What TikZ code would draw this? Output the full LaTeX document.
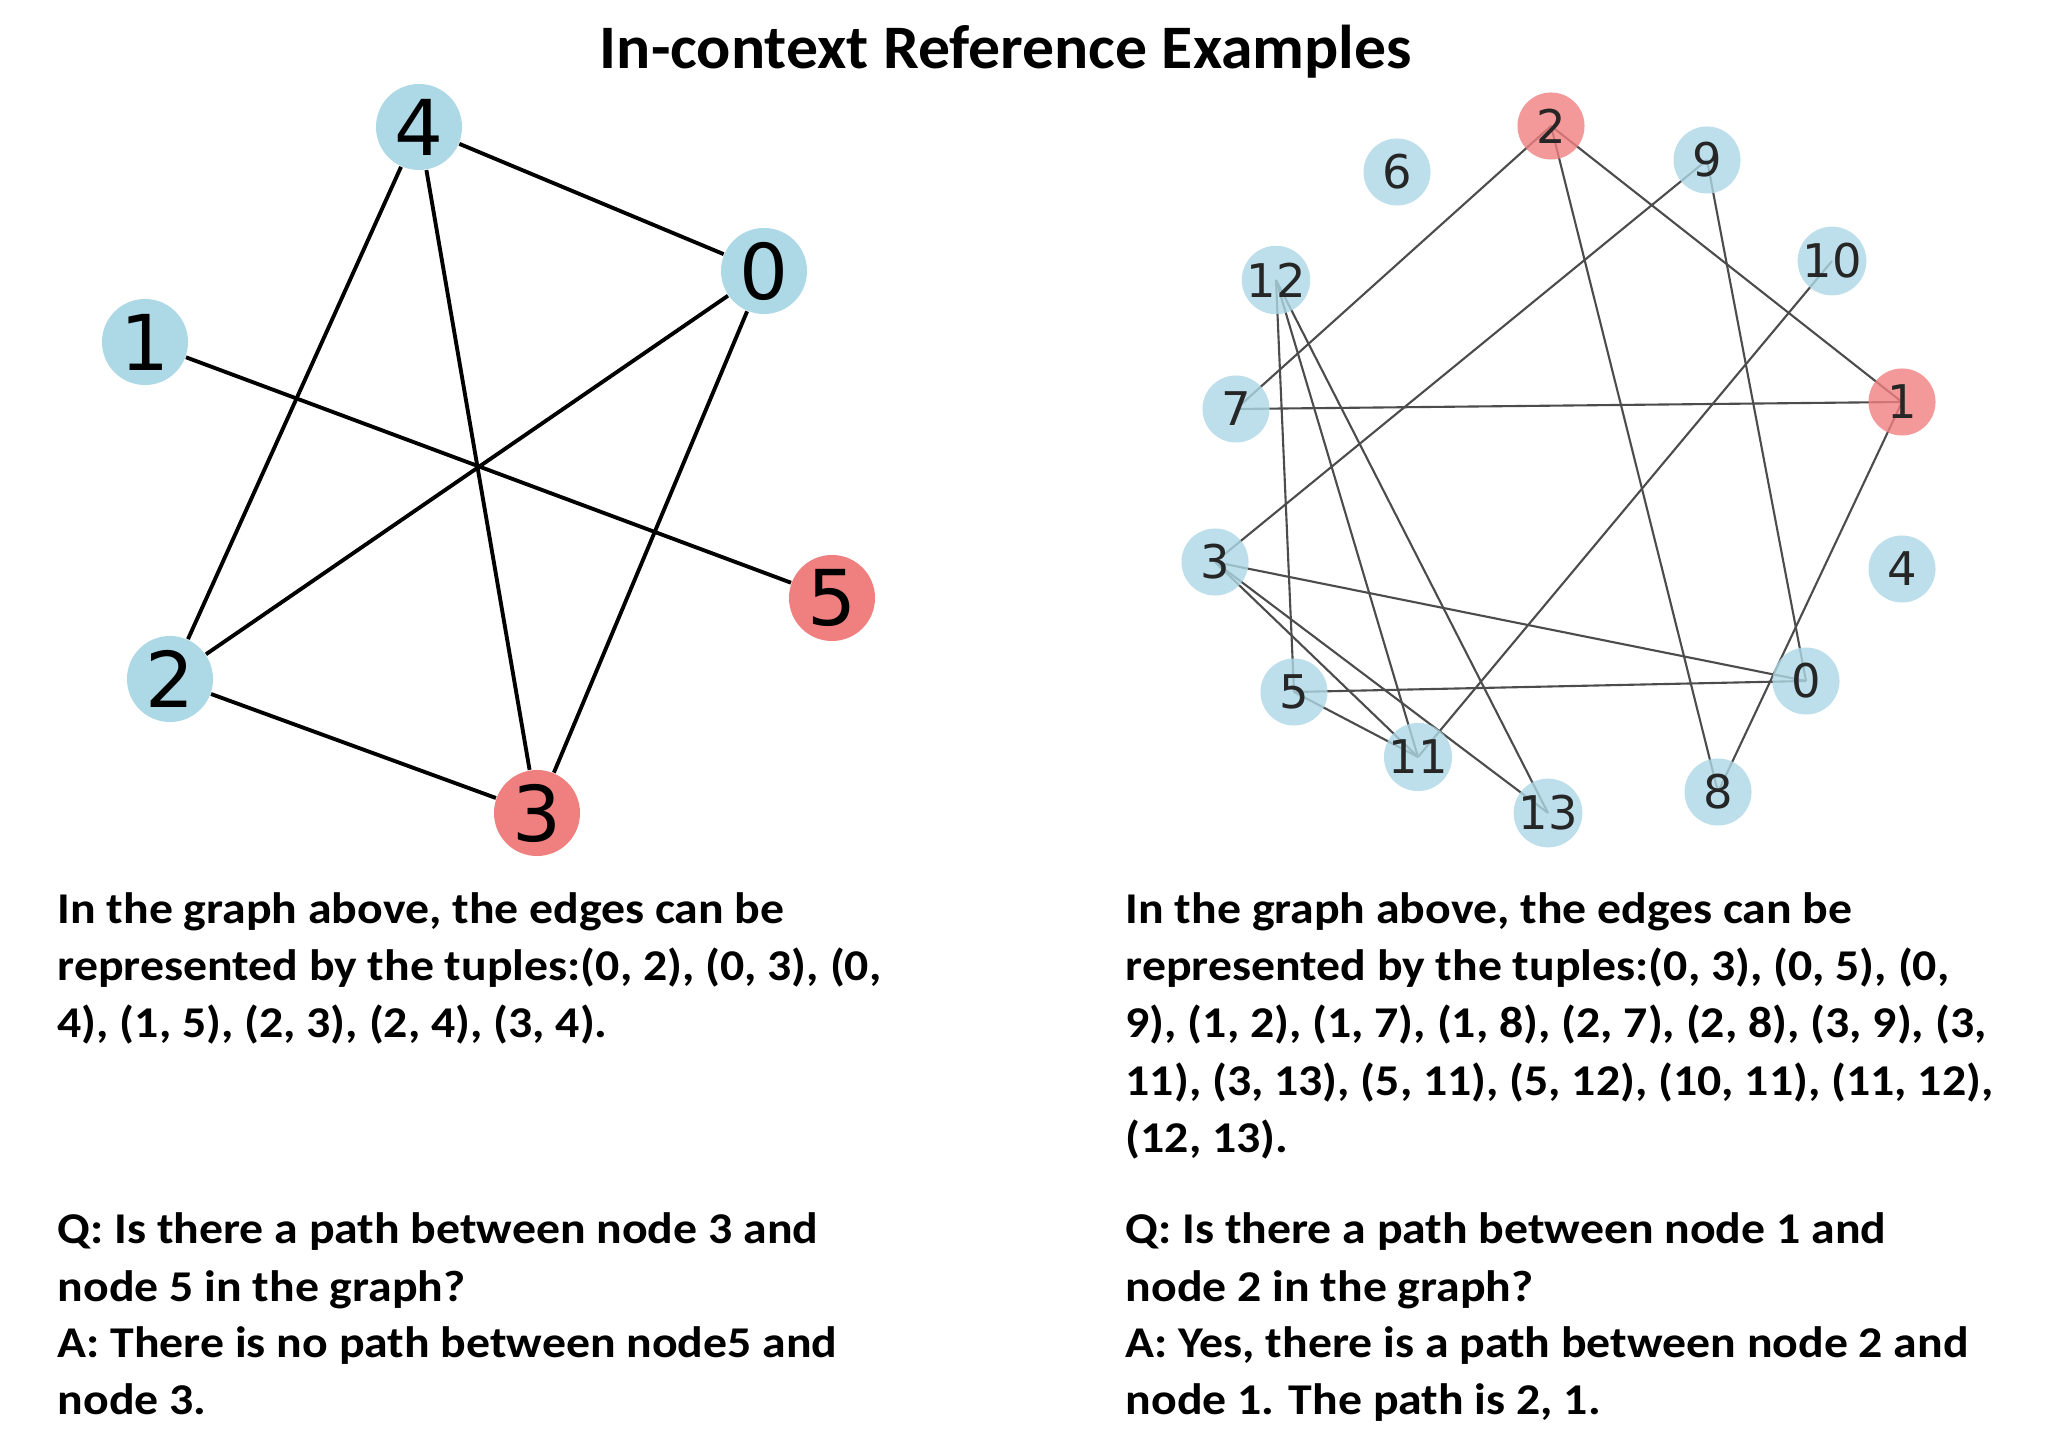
\documentclass[tikz,border=0pt]{standalone}
\usepackage{fontspec}
\setmainfont{Carlito}
\newfontfamily\bodyfont{Carlito}[FakeStretch=1.087]
\newfontfamily\titlefont{Carlito}[FakeStretch=1.03]
\newfontfamily\dejavu{DejaVu Sans}
\pgfdeclarelayer{bg}
\pgfsetlayers{bg,main}
\definecolor{lblue}{HTML}{ADD8E6}
\definecolor{lcoral}{HTML}{F08080}
\definecolor{labgray}{HTML}{262626}
\begin{document}
\begin{tikzpicture}[x=0.01cm,y=-0.01cm,
  bignode/.style={circle,inner sep=0pt,minimum size=0.86cm,fill=lblue,font=\dejavu\fontsize{21.9}{24}\selectfont,text=black},
  bigred/.style={bignode,fill=lcoral},
  smallnode/.style={circle,inner sep=0pt,minimum size=0.67cm,fill=lblue,fill opacity=0.8,text opacity=1,font=\dejavu\fontsize{13.2}{15}\selectfont,text=labgray},
  smallred/.style={smallnode,fill=lcoral},
  bigedge/.style={draw=black,line width=1.1pt},
  smalledge/.style={draw=black!70,line width=0.6pt},
  txt/.style={anchor=base west,inner sep=0pt,font=\bodyfont\bfseries\fontsize{12.5}{15}\selectfont},
  ttl/.style={anchor=base,inner sep=0pt,font=\titlefont\bfseries\fontsize{17.6}{20}\selectfont}]
\useasboundingbox (0,0) rectangle (2048,1440);
\begin{pgfonlayer}{bg}
\fill[white] (0,0) rectangle (2048,1440);
\end{pgfonlayer}

\node[ttl] (title) at (1006,69) {In-context Reference Examples};

% left graph
\node[bignode] (L4) at (419,127) {4};
\node[bignode] (L0) at (764,271) {0};
\node[bignode] (L1) at (145,342) {1};
\node[bigred]  (L5) at (832,598) {5};
\node[bignode] (L2) at (170,679) {2};
\node[bigred]  (L3) at (537,813) {3};
\draw[bigedge] (L0) -- (L2);
\draw[bigedge] (L0) -- (L3);
\draw[bigedge] (L0) -- (L4);
\draw[bigedge] (L1) -- (L5);
\draw[bigedge] (L2) -- (L3);
\draw[bigedge] (L2) -- (L4);
\draw[bigedge] (L3) -- (L4);

% right graph
\node[smallred]  (R2)  at (1551,126) {2};
\node[smallnode] (R9)  at (1707,160) {9};
\node[smallnode] (R6)  at (1397,172) {6};
\node[smallnode] (R12) at (1276,280) {12};
\node[smallnode] (R10) at (1832,261) {10};
\node[smallnode] (R7)  at (1236,409) {7};
\node[smallred]  (R1)  at (1902,402) {1};
\node[smallnode] (R3)  at (1215,562) {3};
\node[smallnode] (R4)  at (1902,569) {4};
\node[smallnode] (R5)  at (1294,692) {5};
\node[smallnode] (R0)  at (1806,681) {0};
\node[smallnode] (R11) at (1418,757) {11};
\node[smallnode] (R8)  at (1718,792) {8};
\node[smallnode] (R13) at (1548,813) {13};
\begin{pgfonlayer}{bg}
\foreach \a/\b in {0/3,0/5,0/9,1/2,1/7,1/8,2/7,2/8,3/9,3/11,3/13,5/11,5/12,10/11,11/12,12/13}
  \draw[smalledge] (R\a.center) -- (R\b.center);
\end{pgfonlayer}

% left text
\node[txt] (l1) at (57,923) {In the graph above, the edges can be};
\node[txt] (l2) at (57,980) {represented by the tuples:(0, 2), (0, 3), (0,};
\node[txt] (l3) at (57,1037) {4), (1, 5), (2, 3), (2, 4), (3, 4).};
\node[txt] (l4) at (57,1243) {Q: Is there a path between node 3 and};
\node[txt] (l5) at (57,1301) {node 5 in the graph?};
\node[txt] (l6) at (57,1357) {A: There is no path between node5 and};
\node[txt] (l7) at (57,1414) {node 3.};

% right text
\node[txt] (r1) at (1125,923) {In the graph above, the edges can be};
\node[txt] (r2) at (1125,980) {represented by the tuples:(0, 3), (0, 5), (0,};
\node[txt] (r3) at (1125,1037) {9), (1, 2), (1, 7), (1, 8), (2, 7), (2, 8), (3, 9), (3,};
\node[txt] (r4) at (1125,1095) {11), (3, 13), (5, 11), (5, 12), (10, 11), (11, 12),};
\node[txt] (r5) at (1125,1152) {(12, 13).};
\node[txt] (r6) at (1125,1243) {Q: Is there a path between node 1 and};
\node[txt] (r7) at (1125,1301) {node 2 in the graph?};
\node[txt] (r8) at (1125,1357) {A: Yes, there is a path between node 2 and};
\node[txt] (r9) at (1125,1414) {node 1. The path is 2, 1.};
\end{tikzpicture}
\end{document}
